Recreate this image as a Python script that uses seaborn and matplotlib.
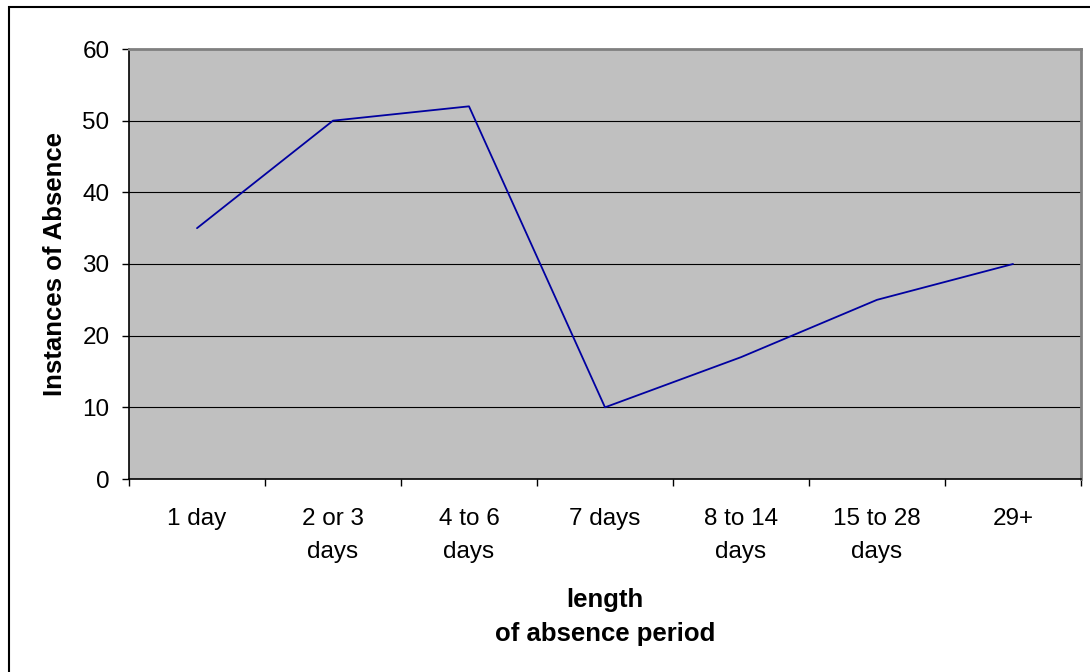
import matplotlib
matplotlib.use("Agg")
import matplotlib.pyplot as plt
import seaborn as sns
import pandas as pd
from matplotlib.patches import Rectangle

categories = ["1 day", "2 or 3\ndays", "4 to 6\ndays", "7 days", "8 to 14\ndays", "15 to 28\ndays", "29+"]
values = [35, 50, 52, 10, 17, 25, 30]
yticks = [0, 10, 20, 30, 40, 50, 60]

sns.set_style("white")
plt.rcParams["font.family"] = ["Liberation Sans", "DejaVu Sans"]
plt.rcParams.update({"text.color": "black", "axes.labelcolor": "black",
                     "xtick.color": "black", "ytick.color": "black"})

df = pd.DataFrame({"cat": range(len(categories)), "val": values})

fig = plt.figure(figsize=(10.9, 6.72), dpi=100)
ax = fig.add_axes([129/1090, 1 - 479/672, (1081-129)/1090, (479-49)/672])
ax.set_facecolor("#c0c0c0")

sns.lineplot(data=df, x="cat", y="val", ax=ax, color="#0000a0", linewidth=1.3, zorder=3)

ax.set_xlim(-0.5, len(categories) - 0.5)
ax.set_ylim(0, 60)
ax.set_yticks(yticks)
ax.set_yticklabels([str(t) for t in yticks], fontsize=17.5)
ax.set_xticks(range(len(categories)))
ax.set_xticklabels(categories, fontsize=17.5, linespacing=1.65, va="top")
ax.tick_params(axis="x", length=0, pad=21)
ax.tick_params(axis="y", length=5, width=1, color="black", direction="out", pad=9, left=True)
ax.set_xticks([i - 0.5 for i in range(len(categories) + 1)], minor=True)
ax.tick_params(axis="x", which="minor", length=5, width=1, color="black", direction="out", bottom=True)

for t in yticks[1:-1]:
    ax.axhline(t, color="black", linewidth=0.8, zorder=1)

for side in ["left", "bottom"]:
    ax.spines[side].set_color("black")
    ax.spines[side].set_linewidth(1.2)
for side in ["top", "right"]:
    ax.spines[side].set_color("#808080")
    ax.spines[side].set_linewidth(2)

ax.set_xlabel("length\nof absence period", fontsize=18.5, fontweight="bold", linespacing=1.5, va="top")
ax.xaxis.set_label_coords(0.5, -0.254)
ax.set_ylabel("Instances of Absence", fontsize=18.5, fontweight="bold", va="center")
ax.yaxis.set_label_coords(-0.0777, 0.5)

fig.patches.append(Rectangle((9/1090, -0.1), 1.2, 1 - 7/672 + 0.1, transform=fig.transFigure,
                             fill=False, edgecolor="black", linewidth=1.5))

fig.savefig("out.png", dpi=100)
